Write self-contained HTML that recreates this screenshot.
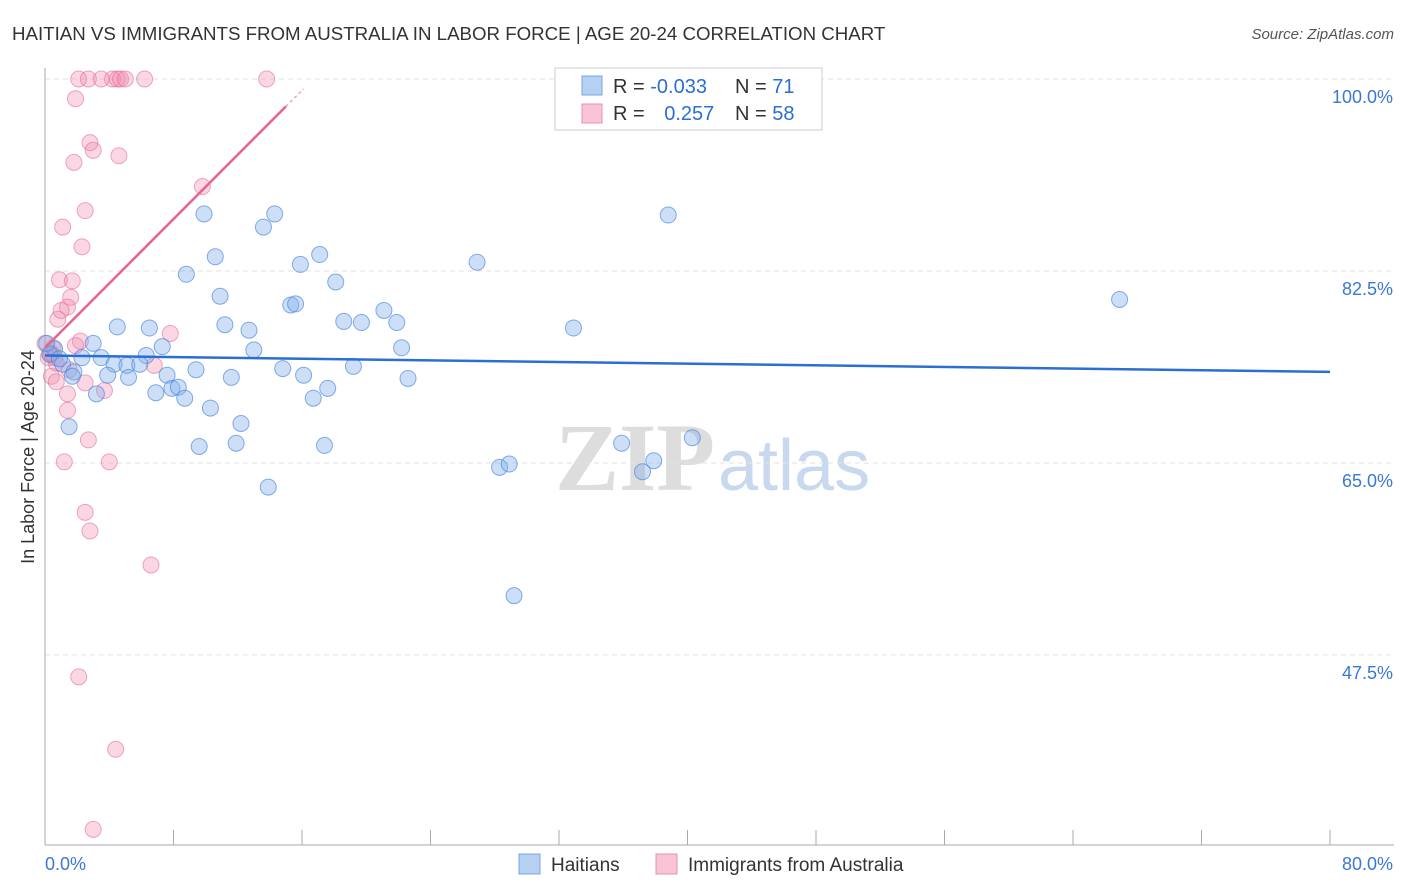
<!DOCTYPE html>
<html><head><meta charset="utf-8">
<style>
body{margin:0;background:#fff;font-family:"Liberation Sans",sans-serif;}
svg{display:block}
</style></head>
<body>
<svg id="chart" width="1406" height="892">
<text x="12" y="40" font-size="18.7" fill="#333">HAITIAN VS IMMIGRANTS FROM AUSTRALIA IN LABOR FORCE | AGE 20-24 CORRELATION CHART</text>
<text x="1394" y="39" font-size="15" fill="#555" font-style="italic" text-anchor="end">Source: ZipAtlas.com</text>
<g>
<text x="555" y="490" font-size="96" font-family="Liberation Serif,serif" fill="#ddd" font-weight="bold">ZIP</text>
<text x="718" y="490" font-size="72" fill="#c8d8ef">atlas</text>
</g>
<g id="grid"></g>
<g id="axes"></g>
<g id="pts"></g>
<g id="trend"></g>
<text transform="translate(34,457) rotate(-90)" font-size="18" fill="#333" text-anchor="middle">In Labor Force | Age 20-24</text>
<g>
<rect x="555" y="68" width="267" height="62" fill="#fff" stroke="#ccc"/>
<rect x="582" y="76" width="20" height="19" fill="#b6d0f3" stroke="#7aa5e0"/>
<rect x="582" y="104" width="20" height="19" fill="#f9c5d6" stroke="#eb8fb0"/>
<text x="613" y="93" font-size="20" fill="#333">R = <tspan fill="#2b6fd0">-0.033</tspan></text>
<text x="735" y="93" font-size="20" fill="#333">N = <tspan fill="#2b6fd0">71</tspan></text>
<text x="613" y="120" font-size="20" fill="#333">R = <tspan fill="#2b6fd0" dx="14">0.257</tspan></text>
<text x="735" y="120" font-size="20" fill="#333">N = <tspan fill="#2b6fd0">58</tspan></text>
</g>
<g>
<rect x="519" y="854" width="21" height="20" fill="#b6d0f3" stroke="#7aa5e0"/>
<text x="551" y="871" font-size="19" fill="#333">Haitians</text>
<rect x="656" y="854" width="21" height="20" fill="#f9c5d6" stroke="#eb8fb0"/>
<text x="688" y="871" font-size="19" fill="#333">Immigrants from Australia</text>
</g>
</svg>
<script>
const yTicks=[100,82.5,65,47.5];
const xTickLabels=["0.0%","80.0%"];
const blueX=[33.3,9.9,14.3,13.6,38.8,10.6,17.1,15.9,26.9,8.8,18.1,10.9,15.3,15.6,66.9,21.1,18.6,19.7,21.9,4.5,6.5,11.2,12.7,32.9,3.0,7.3,13.0,22.2,6.3,3.5,2.3,1.1,4.3,5.1,5.9,19.2,9.4,14.8,1.8,3.9,7.6,5.2,11.6,16.1,22.6,7.9,8.3,6.9,3.2,8.7,17.6,16.7,10.3,12.2,1.5,11.9,9.6,17.4,35.9,40.3,28.3,28.9,37.9,37.2,13.9,29.2,0.6,0.3,0.9,1.7,0.1];
const blueY=[96.9,87.7,87.7,86.5,87.6,83.8,84.0,83.1,83.3,82.2,81.5,80.2,79.4,79.5,79.9,78.9,77.9,77.8,77.8,77.4,77.3,77.6,77.1,77.3,75.9,75.6,75.3,75.5,74.8,74.6,74.6,74.0,74.0,73.9,74.0,73.8,73.5,73.6,73.3,73.0,73.0,72.8,72.8,73.0,72.7,71.8,71.9,71.4,71.3,70.9,71.8,70.9,70.0,68.6,68.3,66.8,66.5,66.6,66.8,67.3,64.6,64.9,65.2,64.2,62.8,52.9,75.4,74.9,74.5,72.9,75.9];
const pinkX=[2.1,2.7,4.2,4.5,4.7,5.0,6.2,13.8,3.5,1.9,2.8,3.0,4.6,1.8,9.8,2.5,1.1,2.3,0.9,1.7,1.6,1.4,1.0,0.8,7.8,2.2,1.9,0.5,0.3,0.6,0.7,6.8,1.5,0.4,0.7,2.5,3.7,1.4,1.4,2.7,1.2,4.0,2.5,2.8,6.6,2.1,4.4,3.0,0.0,0.2,0.4];
const pinkY=[100,100,100,100,100,100,100,100,100,98.2,94.2,93.5,93.0,92.4,90.2,88.0,86.5,84.7,81.7,81.6,80.1,79.2,78.9,78.1,76.8,76.1,75.7,75.5,75.0,74.6,74.1,73.9,73.5,72.9,72.4,72.3,71.6,71.3,69.8,67.1,65.1,65.1,60.5,58.8,55.7,45.5,38.9,31.6,75.9,74.6,75.0];
const blueTrend=[[0,74.8],[80,73.3]];
const pinkTrend=[[0,75.5],[15.0,97.5]];
const pinkTrendExt=[[15.0,97.5],[16.1,99.1]];

const NS="http://www.w3.org/2000/svg";
const X=v=>45+v/80*1285;
const Y=v=>79+(100-v)*10.97;
function mk(tag,attrs,parent){const e=document.createElementNS(NS,tag);for(const k in attrs)e.setAttribute(k,attrs[k]);parent.appendChild(e);return e;}
const grid=document.getElementById('grid'),axes=document.getElementById('axes'),pts=document.getElementById('pts'),trend=document.getElementById('trend');
yTicks.forEach(t=>{
  const l=mk('line',{x1:45,x2:1394,y1:Y(t),y2:Y(t),stroke:'#e2e2e2','stroke-dasharray':'5,4'},grid);
  
  
  const tx=mk('text',{x:1393,y:Y(t)+24,'font-size':18,fill:'#3a78d4','text-anchor':'end'},axes);
  tx.textContent=t.toFixed(1)+'%';
  
  
});
const ax=mk('line',{x1:45,x2:45,y1:68,y2:845,stroke:'#aaa'},axes);


const bx=mk('line',{x1:45,x2:1394,y1:845,y2:845,stroke:'#aaa'},axes);


for(let i=0;i<=10;i++){const t=mk('line',{x1:X(i*8),x2:X(i*8),y1:830,y2:845,stroke:'#aaa'},axes);

}
const xl0=mk('text',{x:45,y:870,'font-size':18,fill:'#3a78d4'},axes);xl0.textContent=xTickLabels[0];


const xl1=mk('text',{x:1393,y:870,'font-size':18,fill:'#3a78d4','text-anchor':'end'},axes);xl1.textContent=xTickLabels[1];



pinkX.forEach((v,i)=>{const c=mk('circle',{cx:X(v),cy:Y(pinkY[i]),r:8,fill:'rgba(240,140,175,0.35)',stroke:'rgba(230,110,150,0.6)','stroke-width':1},pts);

});
blueX.forEach((v,i)=>{const c=mk('circle',{cx:X(v),cy:Y(blueY[i]),r:8,fill:'rgba(130,175,235,0.4)',stroke:'rgba(70,130,220,0.65)','stroke-width':1},pts);

});
const bt=mk('line',{x1:X(blueTrend[0][0]),y1:Y(blueTrend[0][1]),x2:X(blueTrend[1][0]),y2:Y(blueTrend[1][1]),stroke:'#2a6fd4','stroke-width':2.5},trend);


const pt=mk('line',{x1:X(pinkTrend[0][0]),y1:Y(pinkTrend[0][1]),x2:X(pinkTrend[1][0]),y2:Y(pinkTrend[1][1]),stroke:'#e8628f','stroke-width':2.5},trend);


const pe=mk('line',{x1:X(pinkTrendExt[0][0]),y1:Y(pinkTrendExt[0][1]),x2:X(pinkTrendExt[1][0]),y2:Y(pinkTrendExt[1][1]),stroke:'#f0a0bb','stroke-width':1.5,'stroke-dasharray':'3,3'},trend);


</script>
</body></html>
